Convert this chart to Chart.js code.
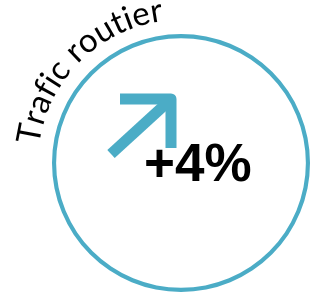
<!DOCTYPE html>
<html>
<head>
<meta charset="utf-8">
<script src="https://cdn.jsdelivr.net/npm/chart.js@4/dist/chart.umd.min.js"></script>
<style>
  html, body { margin: 0; padding: 0; background: #fff; }
  #wrap { width: 310px; height: 296px; position: relative; }
</style>
</head>
<body>
<div id="wrap"><canvas id="indicateur"></canvas></div>
<script>
// données
var categories = ['Trafic routier'];
var variations = [4];        // évolution en %
var anneau = [100];          // cercle complet

var bleu = '#4BACC6';

// plugin pour le texte courbe, la flèche et la valeur
var decorPlugin = {
    id: 'decor',
    afterDraw: function (chart) {
        var ctx = chart.ctx;
        var arc = chart.getDatasetMeta(0).data[0];
        var cx = arc.x, cy = arc.y, r = arc.outerRadius;

        ctx.save();
        // titre courbe, autour du cercle
        ctx.font = '33px Lato';
        ctx.fillStyle = '#000';
        ctx.textBaseline = 'alphabetic';
        var tr = r + 14;
        var texte = categories[0];
        var ang = -Math.PI * 173 / 180;
        for (var i = 0; i < texte.length; i++) {
            var ch = texte[i];
            var w = ctx.measureText(ch).width;
            var a = ang + (w / 2) / tr;
            ctx.save();
            ctx.translate(cx + tr * Math.cos(a), cy + tr * Math.sin(a));
            ctx.rotate(a + Math.PI / 2);
            ctx.textAlign = 'center';
            ctx.fillText(ch, 0, 0);
            ctx.restore();
            ang += w / tr;
        }

        // flèche
        ctx.strokeStyle = bleu;
        ctx.lineWidth = 11;
        ctx.lineJoin = 'round';
        ctx.lineCap = 'butt';
        var ax = cx - 10, ay = cy - 64;
        ctx.beginPath();
        ctx.moveTo(ax - 51, ay);
        ctx.lineTo(ax, ay);
        ctx.lineTo(ax, ay + 49);
        ctx.stroke();
        ctx.beginPath();
        ctx.moveTo(ax - 2, ay + 2);
        ctx.lineTo(ax - 60, ay + 55);
        ctx.stroke();

        // valeur
        ctx.font = 'bold 53px "Liberation Sans"';
        ctx.textAlign = 'left';
        ctx.fillStyle = '#000';
        ctx.fillText('+' + variations[0] + '%', cx - 37, cy + 18);
        ctx.restore();
    }
};

new Chart(document.getElementById('indicateur'), {
    type: 'doughnut',
    data: {
        labels: categories,
        datasets: [{
            data: anneau,
            backgroundColor: [bleu],
            borderWidth: 0
        }]
    },
    options: {
        responsive: true,
        maintainAspectRatio: false,
        animation: false,
        cutout: '96.8%',
        layout: { padding: { left: 52, right: 0, top: 33, bottom: 3 } },
        plugins: {
            legend: { display: false },
            tooltip: { enabled: false }
        }
    },
    plugins: [decorPlugin]
});
</script>
</body>
</html>
